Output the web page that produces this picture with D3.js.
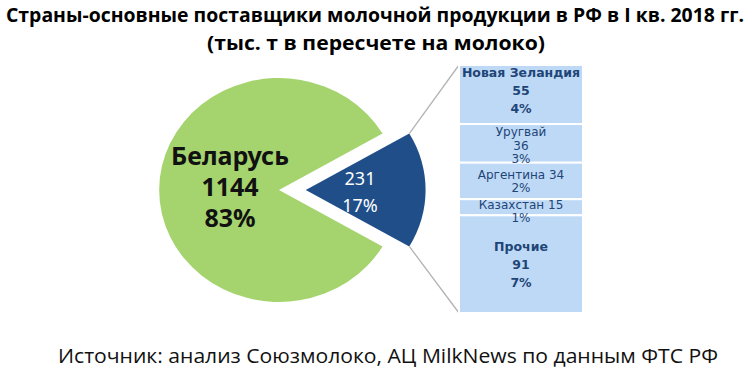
<!DOCTYPE html>
<html>
<head>
<meta charset="utf-8">
<script src="https://cdn.jsdelivr.net/npm/d3@7"></script>
<style>
  body { margin: 0; background: #fff; }
  svg { display: block; }
</style>
</head>
<body>
<svg id="chart" width="750" height="373"></svg>
<script>
// main pie: Belarus vs everything else
var pieLabels = ["Беларусь", "Прочие"];
var pieValues = [1144, 231];
var pieShares = ["83%", "17%"];

// breakdown of the "other" slice
var barCountries = ["Новая Зеландия", "Уругвай", "Аргентина", "Казахстан", "Прочие"];
var barValues = [55, 36, 34, 15, 91];
var barShares = ["4%", "3%", "2%", "1%", "7%"];

var titleLines = ["Страны-основные поставщики молочной продукции в РФ в I кв. 2018 гг.", "(тыс. т в пересчете на молоко)"];
var sourceText = "Источник: анализ Союзмолоко, АЦ MilkNews по данным ФТС РФ";

var svg = d3.select("#chart");

var green = "#a5d46f",
  darkBlue = "#1f4e89",
  barFill = "#bed9f6",
  barText = "#1f4577";

// title
svg.append("text")
  .attr("x", 375).attr("y", 22)
  .attr("text-anchor", "middle")
  .attr("font-family", "Liberation Sans Narrow, Open Sans, sans-serif")
  .attr("font-weight", "bold")
  .attr("font-size", 19)
  .attr("textLength", 738).attr("lengthAdjust", "spacingAndGlyphs")
  .text(titleLines[0]);
svg.append("text")
  .attr("x", 376).attr("y", 50)
  .attr("text-anchor", "middle")
  .attr("font-family", "Liberation Sans Narrow, Open Sans, sans-serif")
  .attr("font-weight", "bold")
  .attr("font-size", 19)
  .attr("textLength", 338).attr("lengthAdjust", "spacingAndGlyphs")
  .text(titleLines[1]);

// pie geometry
var cx = 279, cy = 190, r = 112, sx = 1.07, explode = 25;
var otherSpan = 2 * Math.PI * pieValues[1] / d3.sum(pieValues);

var pie = d3.pie().sort(null)
  .startAngle(Math.PI / 2 + otherSpan / 2)
  .endAngle(Math.PI / 2 + otherSpan / 2 + 2 * Math.PI);
var arcs = pie(pieValues);
var arc = d3.arc().innerRadius(0).outerRadius(r);

var pieG = svg.append("g").attr("transform", "translate(" + cx + "," + cy + ") scale(" + sx + ",1)");

pieG.selectAll("path")
  .data(arcs)
  .enter().append("path")
  .attr("d", arc)
  .attr("fill", function (d, i) { return i == 0 ? green : darkBlue; })
  .attr("transform", function (d, i) { return i == 1 ? "translate(" + explode + ",0)" : null; });

// bar of the breakdown
var barX = 459, barW = 124;
var yBar = d3.scaleLinear().domain([0, d3.sum(barValues)]).range([65, 313]);

var cum = 0;
var segs = barValues.map(function (v, i) {
  var s = { i: i, y0: cum, y1: cum + v };
  cum += v;
  return s;
});

// connector lines from the corners of the blue slice to the bar
var a0 = arcs[1].startAngle, a1 = arcs[1].endAngle;
function corner(a) {
  return [cx + sx * (explode + r * Math.sin(a)), cy - r * Math.cos(a)];
}
var cTop = corner(a0), cBot = corner(a1);
svg.append("line")
  .attr("x1", cTop[0]).attr("y1", cTop[1])
  .attr("x2", barX).attr("y2", yBar(0))
  .attr("stroke", "#b3b3b3").attr("stroke-width", 1.3);
svg.append("line")
  .attr("x1", cBot[0]).attr("y1", cBot[1])
  .attr("x2", barX).attr("y2", yBar(d3.sum(barValues)))
  .attr("stroke", "#b3b3b3").attr("stroke-width", 1.3);

svg.selectAll("rect.seg")
  .data(segs)
  .enter().append("rect")
  .attr("class", "seg")
  .attr("x", barX)
  .attr("width", barW)
  .attr("y", function (d) { return yBar(d.y0); })
  .attr("height", function (d) { return yBar(d.y1) - yBar(d.y0); })
  .attr("fill", barFill)
  .attr("stroke", "#fff")
  .attr("stroke-width", 2);

// labels in the pie
var pieText = svg.append("g")
  .attr("font-family", "Noto Sans, DejaVu Sans, sans-serif")
  .attr("text-anchor", "middle");
[pieLabels[0], pieValues[0], pieShares[0]].forEach(function (t, k) {
  pieText.append("text")
    .attr("x", 230).attr("y", 165 + k * 31)
    .attr("font-size", 25).attr("font-weight", "bold")
    .attr("fill", "#111")
    .text(t);
});
[pieValues[1], pieShares[1]].forEach(function (t, k) {
  pieText.append("text")
    .attr("x", 360).attr("y", 185 + k * 27)
    .attr("font-size", 18)
    .attr("fill", "#fff")
    .text(t);
});

// labels in the bar
var barLabelG = svg.append("g")
  .attr("font-family", "DejaVu Sans, sans-serif")
  .attr("text-anchor", "middle")
  .attr("fill", barText);
segs.forEach(function (s) {
  var i = s.i, lines, step, size, bold;
  bold = barValues[i] > 50;
  if (barValues[i] < 35) {
    lines = [barCountries[i] + " " + barValues[i], barShares[i]];
  } else {
    lines = [barCountries[i], barValues[i], barShares[i]];
  }
  step = bold ? 18 : 13.5;
  size = bold ? 12.5 : 12;
  var mid = (yBar(s.y0) + yBar(s.y1)) / 2;
  if (barValues[i] < 20) mid += 4;
  if (barValues[i] >= 35 && barValues[i] < 50) mid += 2;
  if (barValues[i] == 55) mid -= 4;
  lines.forEach(function (t, k) {
    barLabelG.append("text")
      .attr("x", barX + barW / 2)
      .attr("y", mid + (k - (lines.length - 1) / 2) * step + size * 0.36)
      .attr("font-size", size)
      .attr("font-weight", bold ? "bold" : "normal")
      .text(t);
  });
});

// source line
svg.append("text")
  .attr("x", 388).attr("y", 363)
  .attr("text-anchor", "middle")
  .attr("font-family", "Liberation Sans Narrow, Open Sans, sans-serif")
  .attr("font-size", 20)
  .attr("fill", "#111")
  .attr("textLength", 660).attr("lengthAdjust", "spacingAndGlyphs")
  .text(sourceText);
</script>
</body>
</html>
